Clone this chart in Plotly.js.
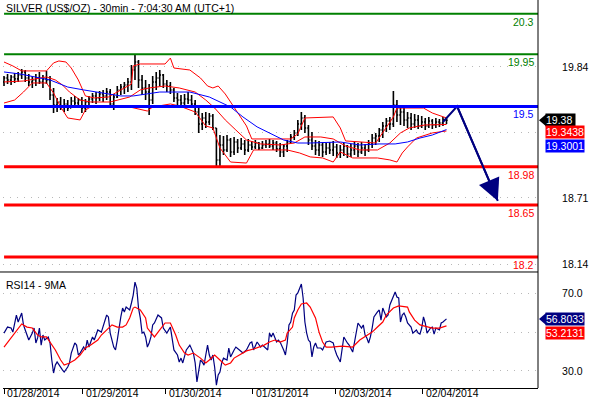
<!DOCTYPE html>
<html><head><meta charset="utf-8">
<script src="https://cdn.plot.ly/plotly-3.0.1.min.js"></script>
<style>html,body{margin:0;padding:0;background:#fff}#c{width:590px;height:400px}</style>
</head><body><div id="c"></div>
<script>
// ---- price bars (30-min, sampled), x = bar index ----
const barOpen = [
19.711,19.745,19.728,19.754,19.737,19.771,19.797,19.745,19.711,19.728,
19.745,19.711,19.737,19.728,19.598,19.512,19.538,19.504,19.521,19.486,
19.547,19.529,19.555,19.486,19.538,19.564,19.590,19.573,19.607,19.590,
19.624,19.521,19.581,19.642,19.667,19.685,19.711,19.814,19.883,19.728,
19.659,19.624,19.555,19.711,19.745,19.771,19.693,19.676,19.642,19.573,
19.555,19.529,19.564,19.555,19.521,19.452,19.348,19.400,19.365,19.417,
19.314,19.038,19.167,19.124,19.210,19.107,19.193,19.141,19.176,19.124,
19.167,19.150,19.184,19.141,19.167,19.176,19.158,19.184,19.133,19.107,
19.158,19.193,19.236,19.271,19.348,19.400,19.314,19.210,19.158,19.124,
19.167,19.107,19.141,19.124,19.150,19.098,19.124,19.158,19.089,19.124,
19.158,19.107,19.141,19.124,19.176,19.227,19.245,19.296,19.331,19.374,
19.348,19.512,19.426,19.452,19.383,19.400,19.348,19.383,19.331,19.365,
19.331,19.374,19.340,19.365,19.357,19.383];
const barHigh = [
19.762,19.780,19.771,19.788,19.797,19.823,19.814,19.780,19.762,19.780,
19.797,19.771,19.806,19.762,19.659,19.573,19.581,19.564,19.555,19.581,
19.590,19.573,19.581,19.564,19.590,19.616,19.624,19.633,19.642,19.659,
19.650,19.607,19.676,19.693,19.711,19.745,19.857,19.944,19.900,19.771,
19.728,19.693,19.762,19.797,19.814,19.780,19.728,19.711,19.659,19.616,
19.598,19.607,19.624,19.598,19.555,19.486,19.443,19.452,19.443,19.435,
19.314,19.253,19.245,19.253,19.227,19.236,19.219,19.227,19.210,19.219,
19.202,19.210,19.193,19.202,19.210,19.219,19.210,19.202,19.184,19.176,
19.210,19.262,19.296,19.383,19.452,19.426,19.340,19.279,19.210,19.202,
19.193,19.184,19.193,19.202,19.176,19.167,19.184,19.167,19.176,19.193,
19.184,19.193,19.176,19.210,19.262,19.271,19.314,19.365,19.400,19.409,
19.633,19.555,19.495,19.486,19.452,19.443,19.435,19.426,19.417,19.400,
19.409,19.391,19.400,19.391,19.409,19.409];
const barLow = [
19.676,19.693,19.685,19.702,19.711,19.737,19.711,19.676,19.659,19.676,
19.693,19.659,19.693,19.555,19.443,19.452,19.469,19.452,19.460,19.486,
19.504,19.486,19.443,19.452,19.504,19.529,19.521,19.547,19.538,19.555,
19.486,19.469,19.573,19.598,19.607,19.624,19.642,19.728,19.659,19.598,
19.555,19.426,19.521,19.642,19.676,19.659,19.624,19.607,19.538,19.512,
19.495,19.504,19.521,19.495,19.426,19.271,19.296,19.314,19.340,19.296,
18.977,18.977,19.081,19.107,19.064,19.081,19.098,19.124,19.081,19.107,
19.124,19.133,19.124,19.133,19.141,19.141,19.124,19.107,19.064,19.064,
19.107,19.184,19.210,19.245,19.296,19.271,19.167,19.124,19.081,19.072,
19.064,19.081,19.089,19.072,19.055,19.055,19.072,19.055,19.064,19.081,
19.064,19.089,19.072,19.107,19.141,19.167,19.193,19.227,19.279,19.296,
19.322,19.365,19.340,19.331,19.314,19.296,19.314,19.305,19.314,19.296,
19.314,19.305,19.314,19.322,19.331,19.348];
const barClose = [
19.745,19.728,19.754,19.737,19.771,19.797,19.745,19.711,19.728,19.745,
19.711,19.737,19.728,19.598,19.512,19.538,19.504,19.521,19.486,19.547,
19.529,19.555,19.486,19.538,19.564,19.590,19.573,19.607,19.590,19.624,
19.521,19.581,19.642,19.667,19.685,19.711,19.814,19.883,19.728,19.659,
19.624,19.555,19.711,19.745,19.771,19.693,19.676,19.642,19.573,19.555,
19.529,19.564,19.555,19.521,19.452,19.348,19.400,19.365,19.417,19.314,
19.038,19.167,19.124,19.210,19.107,19.193,19.141,19.176,19.124,19.167,
19.150,19.184,19.141,19.167,19.176,19.158,19.184,19.133,19.107,19.158,
19.193,19.236,19.271,19.348,19.400,19.314,19.210,19.158,19.124,19.167,
19.107,19.141,19.124,19.150,19.098,19.124,19.158,19.089,19.124,19.158,
19.107,19.141,19.124,19.176,19.227,19.245,19.296,19.331,19.374,19.348,
19.512,19.426,19.452,19.383,19.400,19.348,19.383,19.331,19.365,19.331,
19.374,19.340,19.365,19.357,19.383,19.380];
const barStep = 2; // one drawn bar every 2 half-hours

// ---- Bollinger bands (red) ----
const upperX = [0,5,10,24,28,31,35,38,42,46, 51,59,63,68,72,73,77,91,94,96,
  105,111,115,118,121,125,129,133,137,140, 162,166,170,186,190,193,210,215,220,222, 237,242,250];
const upperV = [19.883,19.849,19.806,19.806,19.875,19.892,19.883,19.831,19.728,19.590,
  19.573,19.581,19.616,19.659,19.693,19.849,19.866,19.866,19.917,19.831,
  19.814,19.745,19.676,19.659,19.676,19.607,19.512,19.426,19.331,19.219,
  19.219,19.262,19.400,19.409,19.314,19.202,19.184,19.296,19.409,19.486,
  19.486,19.443,19.400];
const middleX = [0,11,24,29,33,37,43,49,60,71, 77,82,91,99,108,114,119,125,131,137,
  145,156,164,170,179,186,193,201,211,218, 224,229,238,250];
const middleV = [19.711,19.719,19.754,19.728,19.685,19.624,19.555,19.538,19.538,19.581,
  19.642,19.659,19.676,19.659,19.624,19.555,19.486,19.383,19.296,19.210,
  19.176,19.167,19.184,19.236,19.236,19.219,19.158,19.124,19.124,19.184,
  19.271,19.314,19.340,19.3438];
const lowerX = [0,6,11,16,24,28,32,36,43,46, 49,71,81,84,94,99,108,114,118,122,
  128,137,141,160,167,173,180,186,190,197, 211,218,222,225,228,233,242,250];
const lowerV = [19.529,19.555,19.624,19.702,19.702,19.616,19.495,19.400,19.383,19.469,
  19.495,19.495,19.460,19.495,19.521,19.504,19.452,19.331,19.314,19.141,
  19.020,19.011,19.124,19.124,19.098,19.064,19.055,19.020,19.107,19.055,
  19.055,19.038,19.020,19.098,19.150,19.227,19.271,19.288];
// ---- moving average (blue) ----
const maX = [0,9,26,36,45,60,66,73,81,88, 105,116,128,135,143,150,158,166,173,190,
  201,212,221,228,235,242,250];
const maV = [19.797,19.780,19.728,19.667,19.642,19.607,19.590,19.590,19.607,19.624,
  19.624,19.581,19.495,19.409,19.323,19.271,19.210,19.184,19.184,19.193,
  19.167,19.176,19.176,19.193,19.227,19.253,19.3001];

// ---- RSI14 and its 9MA ----
const rsiX = [0,2,4,5,7,8,10,11,12,14, 16,17,18,19,20,21,22,23,25,26,
  27,28,29,30,33,34,36,37,38,40, 41,42,43,45,46,47,48,50,51,53,
  55,57,58,59,60,62,63,64,65,66, 67,68,69,71,72,73,74,75,76,77,
  78,79,80,81,82,83,84,85,87,89, 90,92,94,95,96,98,99,100,101,103,
  104,105,107,108,109,110,111,112,113,114, 115,116,117,118,119,120,121,122,123,124,
  126,127,128,130,131,133,135,137,139,140, 141,143,145,146,149,150,151,152,154,155,
  156,158,159,160,161,162,163,164,165,166, 167,168,169,170,171,172,173,174,175,176,
  177,179,180,182,184,186,187,188,190,191, 192,194,195,197,198,199,200,202,203,204,
  205,206,207,208,209,211,212,213,214,216, 217,218,220,221,222,223,224,225,226,227,
  228,230,231,233,234,235,236,237,238,239, 241,242,243,244,246,247,248,250];
const rsiV = [49.5,52.6,52.1,50.0,58.8,55.2,59.8,53.7,51.1,45.9,
  49.5,52.1,44.4,47.0,52.1,43.3,48.5,45.9,47.5,44.4,
  35.6,28.9,33.0,34.6,30.5,29.4,32.0,34.1,39.2,44.4,
  43.3,38.2,39.2,42.3,40.8,45.9,42.3,47.5,45.9,51.1,
  50.0,56.2,58.8,57.8,49.5,42.3,40.8,45.9,52.6,57.8,
  62.4,60.4,62.9,61.4,65.0,69.1,75.8,72.7,62.4,57.3,
  49.5,50.0,47.5,42.3,44.4,47.5,53.7,54.7,58.8,57.3,
  52.1,49.5,52.6,45.9,40.8,38.2,34.6,36.6,34.1,40.8,
  42.3,43.3,39.2,34.1,24.3,29.4,35.6,34.6,33.0,38.2,
  43.3,38.2,35.6,38.2,32.0,22.7,27.9,29.4,34.1,36.6,
  35.6,41.8,37.2,40.8,42.3,40.8,39.2,40.8,44.4,44.9,
  40.8,44.9,42.3,43.3,40.8,49.5,47.5,49.5,44.9,45.9,
  44.9,40.8,38.2,44.4,53.7,55.2,59.8,61.4,69.1,70.2,
  72.7,74.8,67.6,55.2,49.5,45.9,44.9,37.2,42.3,44.4,
  41.8,41.8,40.8,44.9,45.4,44.4,40.8,38.2,34.6,42.3,
  47.5,44.4,43.3,39.7,44.9,48.5,54.7,52.1,53.7,48.5,
  47.0,44.4,47.5,52.1,57.8,60.4,61.4,56.2,62.4,57.8,
  58.8,64.0,69.1,70.7,68.1,67.6,55.2,58.8,59.8,57.8,
  54.7,52.6,49.5,51.1,49.5,49.0,52.1,57.8,54.7,49.5,
  52.1,52.6,49.0,52.1,51.1,54.7,55.2,56.8033];
const rsiMaX = [0,3,7,10,13,16,19,21,24,26, 29,32,34,37,40,43,46,49,53,55,
  58,61,64,67,69,71,73,74,77,80, 81,84,85,88,91,94,97,99,102,104,
  107,111,114,116,119,122,125,128,130,133, 137,141,144,147,150,153,156,159,160,163,
  164,166,168,171,173,176,178,180,182,185, 191,197,201,205,208,211,214,216,220,223,
  228,229,232,235,239,242,246,250];
const rsiMaV = [42.3,45.9,51.1,54.2,52.6,52.1,48.5,47.5,47.5,44.9,
  40.8,35.6,33.0,34.1,35.6,38.2,41.8,43.3,45.9,48.5,
  51.1,53.7,52.6,52.6,53.7,57.3,62.4,62.9,61.4,57.3,
  52.1,48.5,47.5,51.1,54.7,54.7,48.5,43.3,39.2,38.2,
  39.2,36.6,34.1,35.6,38.2,35.6,33.0,34.1,36.6,38.2,
  40.3,41.3,42.3,43.3,44.9,45.9,44.9,45.9,49.5,52.6,
  57.3,61.4,64.5,65.0,62.9,57.3,50.0,44.9,42.3,42.3,
  42.8,42.3,45.9,48.5,50.0,52.6,55.2,58.8,62.4,63.5,
  62.9,60.4,56.2,53.7,52.6,52.1,52.1,53.2131];

// ---- levels, projection, axis ticks ----
const levels = [20.3, 19.95, 19.5, 18.98, 18.65, 18.2];
const levelLabels = ['20.3','19.95','19.5','18.98','18.65','18.2'];
const levelColors = ['#008000','#008000','#0000ff','#ff0000','#ff0000','#ff0000'];
const levelWidths = [2,2,3,3,3,3];
const projX = [248, 256, 279];
const projV = [19.365, 19.5, 18.684];
const dayTicks = [0, 44.5, 91.5, 140.5, 187.5, 236.5];
const dayLabels = ['01/28/2014','01/29/2014','01/30/2014','01/31/2014','02/03/2014','02/04/2014'];
const priceTicks = [18.14, 18.71, 19.275, 19.84];
const priceTickText = ['18.14','18.71','','19.84'];
const rsiTicks = [30, 50, 70];
const rsiTickText = ['30.0','','70.0'];
const lastClose = 19.38, lastMid = 19.3438, lastMa = 19.3001;
const lastRsi = 56.8033, lastRsiMa = 53.2131;

const FONT = 'Liberation Sans, Arial, sans-serif';
const barX = barOpen.map((_, i) => i * barStep);
const PM = 20.418 - 18.071;      // main y span
const RM = 80.98 - 21.19;        // rsi y span

const traces = [
  {type:'scatter', mode:'lines', x:upperX, y:upperV, line:{color:'#ff0000', width:1}, hoverinfo:'skip'},
  {type:'scatter', mode:'lines', x:middleX, y:middleV, line:{color:'#ff0000', width:1}, hoverinfo:'skip'},
  {type:'scatter', mode:'lines', x:lowerX, y:lowerV, line:{color:'#ff0000', width:1}, hoverinfo:'skip'},
  {type:'ohlc', x:barX, open:barOpen, high:barHigh, low:barLow, close:barClose, tickwidth:0.35,
   increasing:{line:{color:'#000', width:1.6}}, decreasing:{line:{color:'#000', width:1.6}}, hoverinfo:'skip'},
  {type:'scatter', mode:'lines', x:maX, y:maV, line:{color:'#0000ff', width:1}, hoverinfo:'skip'},
  {type:'scatter', mode:'lines', x:projX, y:projV, line:{color:'#000080', width:2}, hoverinfo:'skip'},
  {type:'scatter', mode:'lines', x:rsiX, y:rsiV, yaxis:'y2', line:{color:'#000080', width:1.2}, hoverinfo:'skip'},
  {type:'scatter', mode:'lines', x:rsiMaX, y:rsiMaV, yaxis:'y2', line:{color:'#ff0000', width:1.2}, hoverinfo:'skip'}
];

const shapes = [];
const annotations = [];
levels.forEach((v, i) => {
  shapes.push({type:'line', xref:'paper', x0:0.002, x1:1, yref:'y', y0:v, y1:v,
    line:{color:levelColors[i], width:levelWidths[i]}});
  annotations.push({xref:'paper', x:0.996, xanchor:'right', yref:'y', y:v, yanchor:'top', yshift:0,
    text:levelLabels[i], showarrow:false, font:{family:FONT, size:10.5, color:levelColors[i]}});
});
const DOM = 0.29897;
shapes.push({type:'line', xref:'paper', x0:-0.006, x1:1, yref:'paper', y0:DOM, y1:DOM, line:{color:'#000', width:1}});
shapes.push({type:'line', xref:'paper', x0:1, x1:1, yref:'paper', y0:0, y1:1, line:{color:'#000', width:1}});

// value boxes on the right
const xb = 1 + 7/535, xt = 1 + 1/535;
function box(yref, v, txt, bg, shift, span, tip) {
  annotations.push({xref:'paper', x:xb, xanchor:'left', yref:yref, y:v, yanchor:'middle', yshift:shift,
    text:txt, showarrow:false, bgcolor:bg, borderpad:0, font:{family:FONT, size:10.5, color:'#fff'}});
  if (tip) {
    const h = 6 * span;
    shapes.push({type:'path', xref:'paper', yref:yref,
      path:`M ${xt},${v} L ${xb+0.002},${v+h} L ${xb+0.002},${v-h} Z`, fillcolor:bg, line:{width:0}});
  }
}
box('y', lastClose, '19.38 ', '#000', 0, PM/272, true);
box('y', lastMid, '19.3438', '#ff0000', -8, PM/272, false);
box('y', lastMa, '19.3001', '#0000ff', -16, PM/272, false);
box('y2', lastRsi, '56.8033', '#000080', 0, RM/116, true);
box('y2', lastRsiMa, '53.2131', '#ff0000', -7, RM/116, false);

// projection arrow head
annotations.push({xref:'x', yref:'y', x:projX[2], y:projV[2], axref:'x', ayref:'y', ax:projX[1], ay:projV[1],
  showarrow:true, arrowhead:2, arrowsize:2.2, arrowwidth:2, arrowcolor:'#000080', text:''});

// titles
annotations.push({xref:'paper', x:0.002, xanchor:'left', yref:'paper', y:1, yanchor:'top', yshift:0,
  text:'SILVER (US$/OZ) - 30min - 7:04:30 AM (UTC+1)', showarrow:false, font:{family:FONT, size:10.5, color:'#000'}});
annotations.push({xref:'paper', x:0.002, xanchor:'left', yref:'paper', y:DOM, yanchor:'top', yshift:-5,
  text:'RSI14 - 9MA', showarrow:false, font:{family:FONT, size:10.5, color:'#000'}});
dayTicks.forEach((t, i) => {
  annotations.push({xref:'x', x:t, xanchor:'left', xshift:2, yref:'paper', y:0, yanchor:'top', yshift:2,
    borderpad:0, text:dayLabels[i], showarrow:false, font:{family:FONT, size:10.5, color:'#000'}});
});

const yCommon = {side:'right', showgrid:true, gridcolor:'#b8b8b8', griddash:'1px,6px', gridwidth:1,
  zeroline:false, showline:false, ticks:'outside', ticklen:21, tickcolor:'rgba(0,0,0,0)',
  tickfont:{family:FONT, size:10.5, color:'#000'}, fixedrange:true, tickmode:'array'};

const layout = {
  width:590, height:400, margin:{l:3, r:52, t:0, b:12},
  paper_bgcolor:'#ffffff', plot_bgcolor:'#ffffff', showlegend:false,
  xaxis:{range:[-0.565, 301.7], anchor:'y2', showgrid:false, zeroline:false, showline:true,
    linecolor:'#000', linewidth:1, ticks:'outside', ticklen:5, tickcolor:'#000',
    tickmode:'array', tickvals:dayTicks, showticklabels:false, rangeslider:{visible:false}, fixedrange:true},
  yaxis:Object.assign({}, yCommon, {domain:[DOM, 1], range:[18.071, 20.418],
    tickvals:priceTicks, ticktext:priceTickText}),
  yaxis2:Object.assign({}, yCommon, {domain:[0, DOM], range:[21.19, 80.98],
    tickvals:rsiTicks, ticktext:rsiTickText}),
  shapes:shapes, annotations:annotations
};
Plotly.newPlot('c', traces, layout, {displayModeBar:false, staticPlot:true});
</script>
</body></html>
